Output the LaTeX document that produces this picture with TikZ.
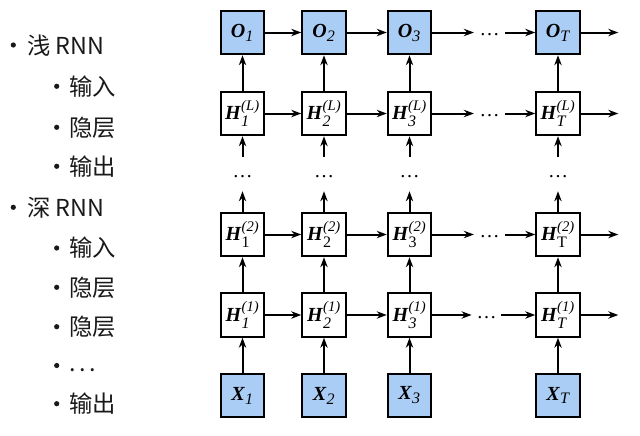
\documentclass[tikz,border=0pt]{standalone}
\usepackage{fontspec}
\usepackage{amsmath}
\setmainfont{Liberation Serif}
\newfontfamily\cjk{Noto Sans CJK SC}
\usetikzlibrary{arrows.meta}
\definecolor{boxblue}{RGB}{170,205,245}
\newcommand{\Hlab}[2]{\textbf{\textit{H}}$^{\mbox{\fontsize{11}{12}\selectfont\itshape #1}}_{\mbox{\fontsize{12}{13}\selectfont #2}}$}
\newcommand{\Slab}[2]{\textbf{\textit{#1}}$_{\mbox{\fontsize{12}{13}\selectfont\itshape #2}}$}
\begin{document}
\begin{tikzpicture}[x=0.75pt,y=-0.75pt,
  cell/.style={draw, line width=1.5pt, minimum size=32.6pt, inner sep=0pt, fill=white, font=\fontsize{15}{17}\selectfont},
  io/.style={cell, fill=boxblue},
  arr/.style={line width=1.5pt, -{Stealth[length=7.5pt,width=5.5pt]}},
  hdots/.style={inner sep=0pt, minimum width=23pt, text height=5pt, text depth=0pt, font=\fontsize{15}{18}\selectfont},
  vdotsn/.style={inner sep=0pt, minimum height=25.5pt, text height=5pt, text depth=0pt, font=\fontsize{15}{18}\selectfont},
  item/.style={anchor=base west, inner sep=0pt, font=\cjk\fontsize{17.5}{20}\selectfont, text=black!90},
  bul/.style={fill=black!90}]
\useasboundingbox (0,0) rectangle (640,436);

% left list
\fill[bul] (13.3,45) circle (2.6);
\node[item] (t1) at (27,54) {浅 RNN};
\fill[bul] (56.7,86.3) circle (2.6);
\node[item] (t2) at (69,95) {输入};
\fill[bul] (56.7,127.3) circle (2.6);
\node[item] (t3) at (69,136) {隐层};
\fill[bul] (56.7,166.3) circle (2.6);
\node[item] (t4) at (69,175) {输出};
\fill[bul] (13.3,207.3) circle (2.6);
\node[item] (t5) at (27,216) {深 RNN};
\fill[bul] (56.7,248) circle (2.6);
\node[item] (t6) at (69,256) {输入};
\fill[bul] (56.7,287.3) circle (2.6);
\node[item] (t7) at (69,296) {隐层};
\fill[bul] (56.7,326.7) circle (2.6);
\node[item] (t8) at (69,335) {隐层};
\fill[bul] (56.7,365.5) circle (2.6);
\node[item] (t9) at (69,371) {.\kern2.8pt.\kern2.8pt.};
\fill[bul] (56.7,403.7) circle (2.6);
\node[item] (t10) at (69,412) {输出};

% output row
\node[io] (o1) at (242.5,32.5) {\Slab{O}{1}};
\node[io] (o2) at (324,32.5) {\Slab{O}{2}};
\node[io] (o3) at (409.5,32.5) {\Slab{O}{3}};
\node[hdots] (od) at (489.5,32.5) {\ldots};
\node[io] (oT) at (558,32.5) {\Slab{O}{T}};
\coordinate (oE) at (618.3,32.5);

% H(L) row
\node[cell] (l1) at (242.5,113.5) {\Hlab{(L)}{\itshape 1}};
\node[cell] (l2) at (324,113.5) {\Hlab{(L)}{\itshape 2}};
\node[cell] (l3) at (409.5,113.5) {\Hlab{(L)}{\itshape 3}};
\node[hdots] (ld) at (489.5,113.5) {\ldots};
\node[cell] (lT) at (558,113.5) {\Hlab{(L)}{\itshape T}};
\coordinate (lE) at (618.3,113.5);

% vertical dots
\node[vdotsn] (v1) at (242.5,174) {\ldots};
\node[vdotsn] (v2) at (324,174) {\ldots};
\node[vdotsn] (v3) at (409.5,174) {\ldots};
\node[vdotsn] (vT) at (558,174) {\ldots};

% H(2) row
\node[cell] (b1) at (242.5,234.5) {\Hlab{(2)}{1}};
\node[cell] (b2) at (324,234.5) {\Hlab{(2)}{2}};
\node[cell] (b3) at (409.5,234.5) {\Hlab{(2)}{3}};
\node[hdots] (bd) at (489.5,234.5) {\ldots};
\node[cell] (bT) at (558,234.5) {\Hlab{(2)}{T}};
\coordinate (bE) at (618.3,234.5);

% H(1) row
\node[cell] (a1) at (242.5,315) {\Hlab{(1)}{\itshape 1}};
\node[cell] (a2) at (324,315) {\Hlab{(1)}{\itshape 2}};
\node[cell] (a3) at (409.5,315) {\Hlab{(1)}{\itshape 3}};
\node[hdots, minimum width=22pt] (ad) at (486.5,315) {\ldots};
\node[cell] (aT) at (558,315) {\Hlab{(1)}{\itshape T}};
\coordinate (aE) at (618.3,315);

% inputs
\node[io] (x1) at (242.5,395.5) {\Slab{X}{1}};
\node[io] (x2) at (324,395.5) {\Slab{X}{2}};
\node[io] (x3) at (409.5,395.5) {\Slab{X}{3}};
\node[io] (xT) at (558,395.5) {\Slab{X}{T}};

% horizontal arrows
\foreach \r in {o,l,b,a}{
  \draw[arr] (\r1) -- (\r2);
  \draw[arr] (\r2) -- (\r3);
  \draw[arr] (\r3) -- (\r d);
  \draw[arr] (\r d) -- (\r T);
  \draw[arr] (\r T) -- (\r E);
}
% vertical arrows
\foreach \c in {1,2,3,T}{
  \draw[arr] (x\c) -- (a\c);
  \draw[arr] (a\c) -- (b\c);
  \draw[arr] (b\c) -- (v\c);
  \draw[arr] (v\c) -- (l\c);
  \draw[arr] (l\c) -- (o\c);
}
\end{tikzpicture}
\end{document}
